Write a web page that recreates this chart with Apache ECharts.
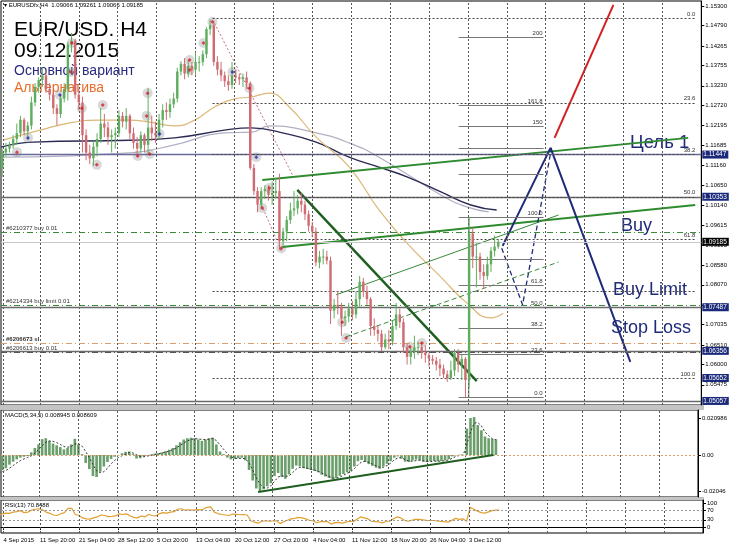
<!DOCTYPE html>
<html><head><meta charset="utf-8">
<script src="https://cdn.jsdelivr.net/npm/echarts@6/dist/echarts.min.js"></script>
<style>html,body{margin:0;padding:0;background:#fff}#c{width:730px;height:547px}</style>
</head><body><div id="c"></div>
<script>
// ---------- DATA ----------
// 12h candles [open, close, low, high], from 4 Sep 2015 00:00 (two per trading day)
const candles = [
[1.1125,1.1110,1.1095,1.1135],[1.1110,1.1150,1.1087,1.1160],
[1.1150,1.1160,1.1140,1.1175],[1.1160,1.1168,1.1150,1.1178],
[1.1168,1.1185,1.1160,1.1195],[1.1185,1.1200,1.1170,1.1225],
[1.1200,1.1235,1.1190,1.1245],[1.1235,1.1205,1.1195,1.1240],
[1.1205,1.1220,1.1185,1.1230],[1.1220,1.1280,1.1210,1.1295],
[1.1280,1.1320,1.1270,1.1330],[1.1320,1.1338,1.1305,1.1345],
[1.1338,1.1350,1.1320,1.1370],[1.1350,1.1315,1.1305,1.1360],
[1.1315,1.1300,1.1285,1.1330],[1.1300,1.1265,1.1250,1.1310],
[1.1265,1.1250,1.1220,1.1275],[1.1250,1.1290,1.1240,1.1300],
[1.1290,1.1315,1.1280,1.1330],[1.1315,1.1430,1.1285,1.1437],
[1.1430,1.1440,1.1410,1.1460],[1.1440,1.1300,1.1290,1.1445],
[1.1300,1.1280,1.1260,1.1315],[1.1280,1.1195,1.1150,1.1295],
[1.1195,1.1150,1.1130,1.1210],[1.1150,1.1135,1.1120,1.1170],
[1.1135,1.1165,1.1115,1.1180],[1.1165,1.1185,1.1140,1.1200],
[1.1185,1.1225,1.1175,1.1265],[1.1225,1.1215,1.1190,1.1250],
[1.1215,1.1190,1.1170,1.1230],[1.1190,1.1195,1.1150,1.1210],
[1.1195,1.1200,1.1160,1.1215],[1.1200,1.1245,1.1190,1.1260],
[1.1245,1.1230,1.1215,1.1255],[1.1230,1.1245,1.1210,1.1265],
[1.1245,1.1200,1.1185,1.1250],[1.1200,1.1175,1.1160,1.1215],
[1.1175,1.1160,1.1140,1.1190],[1.1160,1.1195,1.1150,1.1205],
[1.1195,1.1170,1.1150,1.1200],[1.1170,1.1215,1.1145,1.1318],
[1.1215,1.1200,1.1180,1.1245],[1.1200,1.1195,1.1175,1.1230],
[1.1195,1.1235,1.1185,1.1250],[1.1235,1.1260,1.1215,1.1275],
[1.1260,1.1255,1.1235,1.1280],[1.1255,1.1275,1.1240,1.1290],
[1.1275,1.1290,1.1265,1.1305],[1.1290,1.1360,1.1280,1.1370],
[1.1360,1.1380,1.1350,1.1387],[1.1380,1.1355,1.1340,1.1395],
[1.1355,1.1375,1.1345,1.1390],[1.1375,1.1365,1.1350,1.1385],
[1.1365,1.1385,1.1350,1.1410],[1.1385,1.1385,1.1360,1.1400],
[1.1385,1.1405,1.1375,1.1415],[1.1405,1.1470,1.1395,1.1475],
[1.1470,1.1480,1.1455,1.1495],[1.1480,1.1385,1.1375,1.1490],
[1.1385,1.1365,1.1350,1.1400],[1.1365,1.1350,1.1335,1.1385],
[1.1350,1.1335,1.1320,1.1360],[1.1335,1.1325,1.1310,1.1350],
[1.1325,1.1350,1.1315,1.1385],[1.1350,1.1345,1.1330,1.1365],
[1.1345,1.1340,1.1325,1.1355],[1.1340,1.1345,1.1320,1.1355],
[1.1345,1.1330,1.1315,1.1360],[1.1330,1.1110,1.1105,1.1335],
[1.1110,1.1050,1.1040,1.1120],[1.1050,1.1015,1.0995,1.1060],
[1.1015,1.1050,1.1005,1.1060],[1.1050,1.1055,1.1030,1.1065],
[1.1055,1.1040,1.1025,1.1065],[1.1040,1.1045,1.1015,1.1075],
[1.1045,1.1050,1.1030,1.1085],[1.1050,1.0920,1.0897,1.1095],
[1.0920,1.0945,1.0910,1.0955],[1.0945,1.0975,1.0920,1.0985],
[1.0975,1.1000,1.0965,1.1020],[1.1000,1.1005,1.0985,1.1050],
[1.1005,1.1025,1.0990,1.1040],[1.1025,1.1015,1.0995,1.1045],
[1.1015,1.0990,1.0975,1.1025],[1.0990,1.0960,1.0945,1.1000],
[1.0960,1.0945,1.0930,1.0970],[1.0945,1.0865,1.0855,1.0955],
[1.0865,1.0880,1.0850,1.0895],[1.0880,1.0880,1.0860,1.0900],
[1.0880,1.0870,1.0860,1.0895],[1.0870,1.0740,1.0705,1.0880],
[1.0740,1.0755,1.0720,1.0770],[1.0755,1.0750,1.0730,1.0790],
[1.0750,1.0720,1.0675,1.0760],[1.0720,1.0725,1.0700,1.0740],
[1.0725,1.0745,1.0710,1.0760],[1.0745,1.0730,1.0715,1.0765],
[1.0730,1.0770,1.0720,1.0790],[1.0770,1.0815,1.0750,1.0830],
[1.0815,1.0790,1.0775,1.0825],[1.0790,1.0770,1.0755,1.0805],
[1.0770,1.0700,1.0675,1.0775],[1.0700,1.0690,1.0675,1.0720],
[1.0690,1.0680,1.0660,1.0700],[1.0680,1.0645,1.0635,1.0690],
[1.0645,1.0665,1.0640,1.0680],[1.0665,1.0660,1.0640,1.0690],
[1.0660,1.0700,1.0650,1.0715],[1.0700,1.0730,1.0690,1.0760],
[1.0730,1.0710,1.0695,1.0745],[1.0710,1.0645,1.0630,1.0720],
[1.0645,1.0620,1.0600,1.0655],[1.0620,1.0635,1.0600,1.0645],
[1.0635,1.0645,1.0615,1.0675],[1.0645,1.0645,1.0625,1.0660],
[1.0645,1.0630,1.0615,1.0655],[1.0630,1.0625,1.0605,1.0650],
[1.0625,1.0615,1.0595,1.0630],[1.0615,1.0610,1.0600,1.0625],
[1.0610,1.0600,1.0585,1.0620],[1.0600,1.0590,1.0570,1.0615],
[1.0590,1.0575,1.0565,1.0600],[1.0575,1.0565,1.0555,1.0585],
[1.0565,1.0585,1.0560,1.0610],[1.0585,1.0630,1.0570,1.0640],
[1.0630,1.0600,1.0580,1.0640],[1.0600,1.0615,1.0560,1.0625],
[1.0615,1.0560,1.0516,1.0620],[1.0560,1.0940,1.0540,1.0983],
[1.0940,1.0880,1.0850,1.0955],[1.0880,1.0880,1.0800,1.0915],
[1.0880,1.0840,1.0820,1.0890],[1.0840,1.0830,1.0796,1.0860],
[1.0830,1.0860,1.0820,1.0880],[1.0860,1.0895,1.0840,1.0905],
[1.0895,1.0906,1.0880,1.0935],[1.0906,1.09185,1.0900,1.09261]
];
// MACD(5,34,5) main (histogram) and signal, same 12h slots
const macdMain = [
-0.0095,-0.0085,-0.0075,-0.0055,-0.0038,-0.0025,-0.0015,-0.0010,-0.0006,0.0015,
0.0040,0.0060,0.0090,0.0095,0.0080,0.0065,0.0055,0.0045,0.0032,0.0040,
0.0060,0.0092,0.0060,0.0005,-0.0045,-0.0080,-0.0120,-0.0125,-0.0095,-0.0065,
-0.0040,-0.0022,-0.0010,-0.0002,0.0010,0.0018,0.0020,0.0005,-0.0020,-0.0018,
-0.0008,0.0000,0.0003,0.0008,0.0010,0.0015,0.0022,0.0030,0.0040,0.0055,
0.0072,0.0088,0.0095,0.0098,0.0095,0.0088,0.0080,0.0088,0.0095,0.0098,
0.0060,0.0020,0.0005,-0.0015,-0.0025,-0.0022,-0.0018,-0.0015,-0.0030,-0.0085,
-0.0145,-0.0190,-0.0210,-0.0195,-0.0178,-0.0160,-0.0120,-0.0102,-0.0125,-0.0135,
-0.0110,-0.0078,-0.0060,-0.0065,-0.0075,-0.0080,-0.0085,-0.0090,-0.0098,-0.0112,
-0.0122,-0.0130,-0.0137,-0.0130,-0.0118,-0.0108,-0.0098,-0.0090,-0.0065,-0.0035,
-0.0028,-0.0040,-0.0052,-0.0062,-0.0072,-0.0078,-0.0065,-0.0050,-0.0035,-0.0015,
-0.0008,-0.0020,-0.0038,-0.0040,-0.0032,-0.0026,-0.0030,-0.0038,-0.0040,-0.0036,
-0.0034,-0.0036,-0.0034,-0.0030,-0.0024,-0.0008,-0.0002,0.0002,-0.0002,0.0150,
0.0210,0.0215,0.0170,0.0140,0.0105,0.0095,0.0092,0.008945
];
const macdSignal = [
-0.0100,-0.0095,-0.0088,-0.0075,-0.0060,-0.0045,-0.0032,-0.0022,-0.0014,-0.0005,
0.0012,0.0030,0.0052,0.0072,0.0080,0.0078,0.0070,0.0060,0.0048,0.0044,
0.0048,0.0062,0.0065,0.0050,0.0020,-0.0015,-0.0055,-0.0090,-0.0100,-0.0095,
-0.0075,-0.0050,-0.0030,-0.0015,-0.0004,0.0006,0.0014,0.0012,0.0002,-0.0008,
-0.0010,-0.0006,-0.0002,0.0003,0.0007,0.0011,0.0016,0.0022,0.0030,0.0040,
0.0054,0.0068,0.0080,0.0088,0.0092,0.0092,0.0088,0.0087,0.0090,0.0094,
0.0082,0.0058,0.0032,0.0008,-0.0010,-0.0018,-0.0020,-0.0018,-0.0022,-0.0045,
-0.0085,-0.0130,-0.0165,-0.0185,-0.0188,-0.0175,-0.0150,-0.0125,-0.0118,-0.0122,
-0.0118,-0.0100,-0.0080,-0.0070,-0.0070,-0.0075,-0.0080,-0.0085,-0.0092,-0.0102,
-0.0112,-0.0122,-0.0130,-0.0132,-0.0126,-0.0115,-0.0104,-0.0094,-0.0078,-0.0055,
-0.0040,-0.0036,-0.0042,-0.0052,-0.0062,-0.0070,-0.0070,-0.0060,-0.0046,-0.0028,
-0.0016,-0.0016,-0.0026,-0.0034,-0.0036,-0.0032,-0.0030,-0.0033,-0.0037,-0.0037,
-0.0035,-0.0035,-0.0035,-0.0032,-0.0028,-0.0018,-0.0008,-0.0002,0.0000,0.0060,
0.0130,0.0180,0.0185,0.0165,0.0130,0.0110,0.0092,0.008609
];
// RSI(13)
const rsi = [45,55,58,57,62,64,68,60,62,70,74,76,72,62,57,50,48,55,60,78,78,52,48,38,34,33,38,42,50,48,
43,44,46,55,52,55,46,40,38,46,42,52,48,46,56,60,58,62,64,74,76,70,72,70,72,71,74,82,84,62,
56,52,50,48,54,53,51,52,50,26,20,16,24,26,24,25,26,14,22,28,34,36,40,38,34,28,26,18,22,23,
22,12,18,19,16,20,24,22,32,42,38,34,24,22,21,17,24,24,34,42,38,28,24,28,32,32,30,28,27,27,
25,23,22,20,28,36,32,34,24,82,74,66,60,58,63,68,70,70.85];

// Moving averages: [bar index (H4 bars from 4 Sep 00:00), price]
const maOrange = [[4.6,1.1182],[35,1.1208],[59.6,1.1227],[84.2,1.1234],[108.8,1.1234],[125.2,1.1229],[145.7,1.1219],[162.2,1.1234],[178.6,1.1268],[195,1.1289],[208.9,1.1294],[223.7,1.1304],[240.1,1.1268],[262.2,1.1190],[289.3,1.1113],[313.9,1.1001],[336.9,1.0915],[364.8,1.0827],[386.1,1.0760],[405.8,1.0721],[416,1.0733]];
const maNavy = [[3,1.1164],[29.3,1.1177],[108.8,1.1182],[145.7,1.1188],[186.8,1.1208],[208.9,1.1214],[234.3,1.1201],[262.2,1.1177],[289.3,1.1138],[313.9,1.1112],[336.9,1.1087],[364.8,1.1048],[389.4,1.1014],[410.7,1.1001]];
const maGrey = [[3,1.1138],[108.8,1.1149],[145.7,1.1170],[186.8,1.1201],[208.9,1.1203],[223.7,1.1219],[262.2,1.1201],[289.3,1.1175],[313.9,1.1138],[364.8,1.1040],[386.1,1.1009],[404.1,1.0996]];

// fractal markers
const fractalRed = [[16.1,1.1151],[61.3,1.1434],[60.4,1.1359],[69.5,1.1265],[81.8,1.1118],[86.7,1.1273],[115.4,1.1141],[125.2,1.1146],[123.6,1.1304],[122.8,1.1245],[158.1,1.1390],[158.1,1.1364],[169.5,1.1434],[176.9,1.1489],[207.3,1.1317],[217.9,1.1006],[223.7,1.1058],[233.5,1.0902],[283.6,1.0710],[286.8,1.0669],[339.3,1.0646],[349.2,1.0656]];
const fractalBlue = [[25.2,1.1188],[51.4,1.1299],[133.4,1.1198],[193.3,1.1359],[213.0,1.1138]];

// drawn objects
const trendTarget = [[217.9,1.1079],[568.2,1.1188]];
const trendBuy = [[234.3,1.0905],[574,1.1014]];
const trendDown = [[246.7,1.1053],[394.3,1.0557]];
const thinUp = [[278.6,1.0781],[461.6,1.0988]];
const thinDash = [[286.8,1.0672],[461.6,1.0866]];
const dottedFromPeak = [[178.6,1.1485],[243.4,1.1088]];
const dottedLower = [[214.8,1.1033],[234.3,1.0889]];
const forecastMain = [[415.6,1.0908],[455,1.1162],[520.6,1.0607]];
const forecastDash = [[414.8,1.0902],[432,1.0755],[455.8,1.1162]];
const forecastAlt = [[458.3,1.1188],[506.7,1.1533]];
const fibAnchor = [[387.7,1.0516],[387.7,1.0983]];
const macdTrend = [[215.5,-0.0210],[409.9,0.0]];

// Fibonacci retracement (from 15 Oct high) and expansion (from 3 Dec)
const fibRetLevels = ['0.0','23.6','38.2','50.0','61.8','76.4','100.0'];
const fibRetPrices = [1.1499,1.1279,1.11447,1.10353,1.0926,1.0789,1.05652];
const fibExpLevels = ['200','161.8','150','138.2','123.6','100.0','76.4','61.8','50.0','38.2','23.6','0.0'];
const fibExpPrices = [1.1450,1.1272,1.1217,1.1161,1.1093,1.0983,1.0873,1.08046,1.07495,1.0694,1.0626,1.0516];

// horizontal levels
const solidLevels = [1.11447,1.10353,1.07487,1.06356,1.05057];
const solidColors = ['#6a6a9a','#6a6a6a','#6a6a6a','#6a6a6a','#6a6a6a'];
const boxLevels = [1.11447,1.10353,1.07487,1.06356,1.05652,1.05057];
const bidPrice = 1.09185;
const orderPrices = [1.09439,1.07546,1.06560,1.06327];
const orderLabels = ['#6210377 buy 0.01','#6214334 buy limit 0.01','#6206673 sl','#6206613 buy 0.01'];

// axes
const priceTicks = [1.153,1.1479,1.14265,1.13755,1.1323,1.1272,1.12195,1.11685,1.1116,1.1065,1.1014,1.09615,1.09105,1.0858,1.0807,1.07545,1.07035,1.0651,1.06,1.05475];
const xLabelBars = [5,35,67,99,131,163,195,227,259,291,323,355,387];
const xLabels = ['4 Sep 2015','11 Sep 20:00','21 Sep 04:00','28 Sep 12:00','5 Oct 20:00','13 Oct 04:00','20 Oct 12:00','27 Oct 20:00','4 Nov 04:00','11 Nov 12:00','18 Nov 20:00','26 Nov 04:00','3 Dec 12:00'];
const gridBars = [5,35,67,99,131,163,195,227,259,291,323,355,387,419,451,483,515,547];
const macdTicks = [0.020986,0,-0.02046];
const macdTickLabels = ['0.020986','0.00','-0.02046'];
const rsiTicks = [100,70,30,0];

// ---------- CHART ----------
const X_MIN = 3, X_MAX = 579;
const Y_RANGES = [[1.04952, 1.1543], [-0.02384, 0.02554], [-25, 112.5]];
const FONT = '"Liberation Sans", Arial, sans-serif';
const slotBar = i => 3 * i + 1;
const UP = '#5fae5f', DOWN = '#cf6b72';

function renderCandle(params, api) {
  const x = api.value(0), o = api.value(1), c = api.value(2), l = api.value(3), h = api.value(4);
  const pO = api.coord([x, o]), pC = api.coord([x, c]), pL = api.coord([x, l]), pH = api.coord([x, h]);
  const w = Math.max(api.size([2.0, 0])[0], 1.5);
  const col = c >= o ? UP : DOWN;
  const top = Math.min(pO[1], pC[1]), bot = Math.max(pO[1], pC[1]);
  return {type: 'group', children: [
    {type: 'line', shape: {x1: pO[0], y1: pH[1], x2: pO[0], y2: pL[1]}, style: {stroke: col, lineWidth: 1}},
    {type: 'rect', shape: {x: pO[0] - w / 2, y: top, width: w, height: Math.max(bot - top, 1)}, style: {fill: col}}
  ]};
}

const candleData = candles.map((d, i) => [slotBar(i), d[0], d[1], d[2], d[3]]);
const macdData = macdMain.map((v, i) => [slotBar(i), v]);
const sigData = macdSignal.map((v, i) => [slotBar(i), v]);
const rsiData = rsi.map((v, i) => [slotBar(i), v]);

function hSeg(x1, x2, p, lineStyle, label) {
  return [{coord: [x1, p], lineStyle: lineStyle, label: label || {show: false}}, {coord: [x2, p]}];
}
function vGridData(g) {
  const r = Y_RANGES[g];
  return gridBars.map(b => [{coord: [b, r[0]], lineStyle: {color: '#555', type: [2, 2], width: 1}, label: {show: false}}, {coord: [b, r[1]]}]);
}
function markSeries(g, data, z) {
  return {type: 'line', xAxisIndex: g, yAxisIndex: g, data: [], z: z, silent: true,
    markLine: {silent: true, symbol: 'none', animation: false, data: data}};
}
function lineSeries(data, color, width, type, extra) {
  return Object.assign({type: 'line', xAxisIndex: 0, yAxisIndex: 0, data: data, symbol: 'none', silent: true,
    animation: false, lineStyle: {color: color, width: width, type: type || 'solid'}, z: 4}, extra || {});
}
function boxLabel(text, bg) {
  return {show: true, position: 'end', distance: 1, formatter: text, backgroundColor: bg, color: '#fff',
    fontSize: 6.5, fontFamily: FONT, padding: [1, 2, 0, 1]};
}

const levelData = [];
solidLevels.forEach((p, i) => levelData.push(hSeg(X_MIN, X_MAX, p, {color: solidColors[i], width: 1.3, type: 'solid'})));
levelData.push(hSeg(X_MIN, X_MAX, bidPrice, {color: '#c8c8c8', width: 1, type: 'solid'}));
const orderColors = ['#3a8a3a', '#3a8a3a', '#d8a070', '#555'];
orderPrices.forEach((p, i) => levelData.push(hSeg(X_MIN, X_MAX, p, {color: orderColors[i], width: 1, type: [6, 3, 1, 3]})));
const boxData = boxLevels.map(p => hSeg(X_MIN, X_MAX, p, {width: 1, color: 'rgba(0,0,0,0)'}, boxLabel(p.toFixed(5), '#1b2a7a')));
boxData.push(hSeg(X_MIN, X_MAX, bidPrice, {width: 1, color: 'rgba(0,0,0,0)'}, boxLabel(bidPrice.toFixed(5), '#000')));

const fibRet = fibRetPrices.map((p, i) => hSeg(177, X_MAX - 4, p, {color: '#444', width: 1, type: [2, 2]},
  {show: fibRetLevels[i] !== '76.4', position: 'insideEndTop', formatter: fibRetLevels[i], fontSize: 6, color: '#333', fontFamily: FONT, distance: 1}));
const fibExp = fibExpPrices.map((p, i) => hSeg(379.5, 449.3, p, {color: '#777', width: 1.2, type: 'solid'},
  {show: ['138.2', '123.6', '76.4'].indexOf(fibExpLevels[i]) < 0, position: 'insideEndTop', formatter: fibExpLevels[i], fontSize: 6, color: '#333', fontFamily: FONT, distance: 1}));

const option = {
  animation: false,
  backgroundColor: '#fff',
  grid: [
    {left: 1, top: 1, width: 702, height: 404, show: true, borderColor: '#000', borderWidth: 1},
    {left: 1, top: 410, width: 702, height: 87, show: true, borderColor: '#000', borderWidth: 1},
    {left: 1, top: 500, width: 702, height: 33, show: true, borderColor: '#000', borderWidth: 1}
  ],
  xAxis: [0, 1, 2].map(g => ({
    gridIndex: g, type: 'value', min: X_MIN, max: X_MAX,
    axisLine: {show: g === 2, lineStyle: {color: '#000'}},
    axisTick: {show: g === 2, customValues: xLabelBars, length: 3, lineStyle: {color: '#000'}},
    axisLabel: {show: g === 2, customValues: xLabelBars, formatter: v => xLabels[xLabelBars.indexOf(v)] || '',
      fontSize: 6, color: '#000', fontFamily: FONT, align: 'left', margin: 4},
    splitLine: {show: false}
  })),
  yAxis: [
    {gridIndex: 0, type: 'value', position: 'right', min: Y_RANGES[0][0], max: Y_RANGES[0][1],
      axisLine: {show: true, lineStyle: {color: '#000'}},
      axisTick: {show: true, customValues: priceTicks, length: 3, lineStyle: {color: '#000'}},
      axisLabel: {customValues: priceTicks, formatter: v => v.toFixed(5), fontSize: 6, color: '#000', fontFamily: FONT, margin: 4},
      splitLine: {show: false}},
    {gridIndex: 1, type: 'value', position: 'right', min: Y_RANGES[1][0], max: Y_RANGES[1][1],
      axisLine: {show: true, lineStyle: {color: '#000'}},
      axisTick: {show: true, customValues: macdTicks, length: 3},
      axisLabel: {customValues: macdTicks, formatter: v => macdTickLabels[macdTicks.indexOf(v)] || '', fontSize: 6, color: '#000', fontFamily: FONT, margin: 4},
      splitLine: {show: false}},
    {gridIndex: 2, type: 'value', position: 'right', min: Y_RANGES[2][0], max: Y_RANGES[2][1],
      axisLine: {show: true, lineStyle: {color: '#000'}},
      axisTick: {show: true, customValues: rsiTicks, length: 3},
      axisLabel: {customValues: rsiTicks, fontSize: 6, color: '#000', fontFamily: FONT, margin: 4},
      splitLine: {show: false}}
  ],
  series: [
    markSeries(0, vGridData(0), 1),
    markSeries(0, levelData, 2),
    markSeries(0, fibRet.concat(fibExp), 2),
    lineSeries(maGrey, '#b0b0c4', 1.2, 'solid', {smooth: true, z: 3}),
    lineSeries(maNavy, '#2a2a55', 1.4, 'solid', {smooth: true, z: 3}),
    lineSeries(maOrange, '#dcb878', 1.2, 'solid', {smooth: true, z: 3}),
    lineSeries(fibAnchor, '#888', 1.2),
    lineSeries(dottedFromPeak, '#c07080', 1, [2, 2]),
    lineSeries(dottedLower, '#c07080', 1, [2, 2]),
    {type: 'scatter', xAxisIndex: 0, yAxisIndex: 0, data: fractalRed.concat(fractalBlue), symbolSize: 10, silent: true,
      itemStyle: {color: 'rgba(150,150,150,0.45)'}, z: 3},
    {type: 'custom', xAxisIndex: 0, yAxisIndex: 0, data: candleData, renderItem: renderCandle, encode: {x: 0, y: [1, 2, 3, 4]}, clip: true, silent: true, z: 5},
    {type: 'scatter', xAxisIndex: 0, yAxisIndex: 0, data: fractalRed, symbol: 'diamond', symbolSize: 4, silent: true, itemStyle: {color: '#d0202a'}, z: 6},
    {type: 'scatter', xAxisIndex: 0, yAxisIndex: 0, data: fractalBlue, symbol: 'diamond', symbolSize: 4, silent: true, itemStyle: {color: '#2030b0'}, z: 6},
    lineSeries(trendTarget, '#2e8b2e', 2),
    lineSeries(trendBuy, '#2e8b2e', 2),
    lineSeries(trendDown, '#1e5e1e', 2.4),
    lineSeries(thinUp, '#3a8a3a', 1),
    lineSeries(thinDash, '#3a8a3a', 1, [5, 3]),
    lineSeries(forecastDash, '#1f2a78', 1.3, [5, 3]),
    lineSeries(forecastMain, '#1f2a78', 2),
    lineSeries(forecastAlt, '#d42020', 2),
    markSeries(0, boxData, 10),
    // MACD
    markSeries(1, vGridData(1), 1),
    markSeries(1, [hSeg(X_MIN, X_MAX, 0, {color: '#e0a070', type: [2, 2], width: 1})], 2),
    {type: 'bar', xAxisIndex: 1, yAxisIndex: 1, data: macdData, barWidth: 2.6, silent: true, itemStyle: {color: '#6a9e6a'}, z: 3},
    {type: 'line', xAxisIndex: 1, yAxisIndex: 1, data: sigData, symbol: 'none', silent: true, lineStyle: {color: '#333', width: 1, type: [2, 2]}, z: 4},
    {type: 'line', xAxisIndex: 1, yAxisIndex: 1, data: macdTrend, symbol: 'none', silent: true, lineStyle: {color: '#1e5e1e', width: 2}, z: 5},
    // RSI
    markSeries(2, vGridData(2), 1),
    markSeries(2, [hSeg(X_MIN, X_MAX, 70, {color: '#999', type: [2, 2], width: 1}), hSeg(X_MIN, X_MAX, 30, {color: '#999', type: [2, 2], width: 1})], 2),
    {type: 'line', xAxisIndex: 2, yAxisIndex: 2, data: rsiData, symbol: 'none', silent: true, lineStyle: {color: '#e0a030', width: 1.2}, z: 3}
  ],
  graphic: [
    {type: 'rect', shape: {x: 0, y: 405, width: 704, height: 5}, style: {fill: '#c4c4c4'}, silent: true},
    {type: 'rect', shape: {x: 0, y: 497, width: 704, height: 3}, style: {fill: '#c4c4c4'}, silent: true},
    {type: 'text', x: 4, y: 5, style: {text: '\u25BE EURUSDfx,H4  1.09066 1.09261 1.09066 1.09185', font: '6px ' + FONT, fill: '#000', verticalAlign: 'middle'}},
    {type: 'text', x: 14, y: 30, style: {text: 'EUR/USD. H4', font: '21px ' + FONT, fill: '#000', verticalAlign: 'middle'}},
    {type: 'text', x: 14, y: 51, style: {text: '09.12.2015', font: '21px ' + FONT, fill: '#000', verticalAlign: 'middle'}},
    {type: 'text', x: 14, y: 71, style: {text: 'Основной вариант', font: '14px ' + FONT, fill: '#2a2a80', verticalAlign: 'middle'}},
    {type: 'text', x: 14, y: 88, style: {text: 'Альтернатива', font: '14px ' + FONT, fill: '#e86d2a', verticalAlign: 'middle'}},
    {type: 'text', x: 630, y: 143, style: {text: 'Цель 1', font: '18.5px ' + FONT, fill: '#1f2a78', verticalAlign: 'middle'}},
    {type: 'text', x: 621, y: 226, style: {text: 'Buy', font: '18px ' + FONT, fill: '#1f2a78', verticalAlign: 'middle'}},
    {type: 'text', x: 613, y: 290, style: {text: 'Buy Limit', font: '18px ' + FONT, fill: '#1f2a78', verticalAlign: 'middle'}},
    {type: 'text', x: 611, y: 328, style: {text: 'Stop Loss', font: '18px ' + FONT, fill: '#1f2a78', verticalAlign: 'middle'}},
    {type: 'text', x: 6, y: 228, style: {text: orderLabels[0], font: '6px ' + FONT, fill: '#333', verticalAlign: 'middle'}},
    {type: 'text', x: 6, y: 301, style: {text: orderLabels[1], font: '6px ' + FONT, fill: '#333', verticalAlign: 'middle'}},
    {type: 'text', x: 6, y: 339, style: {text: orderLabels[2], font: 'bold 6px ' + FONT, fill: '#333', verticalAlign: 'middle'}},
    {type: 'text', x: 6, y: 348, style: {text: orderLabels[3], font: '6px ' + FONT, fill: '#333', verticalAlign: 'middle'}},
    {type: 'text', x: 5, y: 415, style: {text: 'MACD(5,34,5) 0.008945 0.008609', font: '6px ' + FONT, fill: '#000', verticalAlign: 'middle'}},
    {type: 'text', x: 5, y: 505, style: {text: 'RSI(13) 70.8488', font: '6px ' + FONT, fill: '#000', verticalAlign: 'middle'}}
  ]
};
const chart = echarts.init(document.getElementById('c'), null, {renderer: 'canvas'});
chart.setOption(option);
</script></body></html>
